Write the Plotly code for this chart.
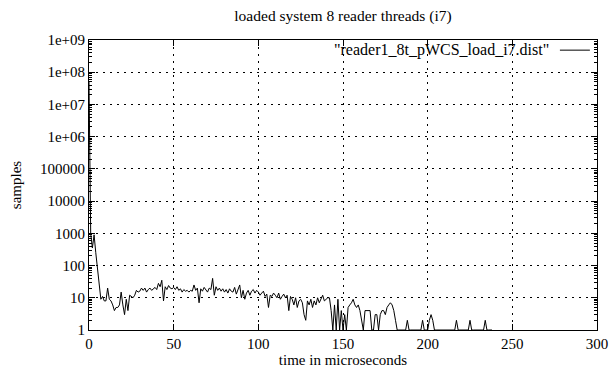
import plotly.graph_objects as go

# time in microseconds (bin index) and sample counts
time_us = list(range(0, 239))
samples = [
    5e7, 1000, 350, 900, 250, 80, 25, 9, 11, 8,
    8, 20, 9, 8, 6, 4, 5, 5, 6, 15,
    6, 3, 9, 4, 12, 11, 10, 12, 17, 15,
    16, 20, 17, 20, 15, 18, 20, 17, 19, 21,
    18, 28, 22, 35, 8, 22, 18, 24, 20, 19,
    21, 18, 22, 17, 19, 15, 18, 16, 17, 15,
    17, 16, 25, 17, 20, 7, 19, 16, 21, 18,
    15, 20, 18, 40, 12, 22, 17, 20, 16, 19,
    15, 18, 14, 19, 16, 15, 21, 13, 19, 25,
    10, 17, 9, 14, 17, 12, 16, 18, 14, 17,
    15, 12, 14, 16, 11, 13, 5, 12, 11, 14,
    12, 10, 14, 9, 11, 13, 10, 12, 4, 11,
    9, 6, 10, 5, 8, 9, 7, 3, 2, 8,
    6, 9, 5, 8, 6, 10, 7, 9, 12, 8,
    9, 10, 10, 4, 1, 6, 1, 9, 1, 4,
    1, 3, 1, 5, 6, 7, 9, 6, 5, 6,
    4, 2, 1, 4, 4, 4, 4, 1, 1, 3,
    3, 1, 3, 4, 4, 3, 5, 6, 7, 6,
    4, 2, 1, 1, 1, 1, 1, 1, 2, 1,
    1, 1, 1, 1, 1, 1, 1, 2, 1, 1,
    1, 2, 3, 2, 1, 1, 1, 1, 1, 1,
    1, 1, 1, 1, 1, 1, 1, 2, 1, 1,
    1, 1, 1, 1, 1, 2, 1, 1, 1, 1,
    1, 1, 1, 1, 2, 1, 1, 1, 1,
]

x_ticks = [0, 50, 100, 150, 200, 250, 300]
y_tickvals = [1, 10, 100, 1000, 10000, 100000, 1e6, 1e7, 1e8, 1e9]
y_ticktext = ["1", "10", "100", "1000", "10000", "100000", "1e+06", "1e+07", "1e+08", "1e+09"]
y_minor = [k * 10 ** d for d in range(0, 9) for k in range(2, 10)]

title_text = "loaded system 8 reader threads (i7)"
series_name = '"reader1_8t_pWCS_load_i7.dist"'

FONT = "Liberation Serif"
FS = 15

fig = go.Figure()
fig.add_trace(go.Scatter(
    x=time_us, y=samples, mode="lines", name=series_name,
    line=dict(color="black", width=1), showlegend=False,
))

axis_common = dict(
    showline=True, linecolor="black", linewidth=1, mirror="ticks",
    ticks="inside", ticklen=6, tickcolor="black", tickwidth=1,
    showgrid=True, gridcolor="black", gridwidth=1, griddash="2px,5px",
    zeroline=False, automargin=False,
    tickfont=dict(family=FONT, size=FS, color="black"),
)

fig.update_layout(
    width=610, height=369,
    margin=dict(l=89, r=13, t=40, b=39),
    paper_bgcolor="white", plot_bgcolor="white",
    font=dict(family=FONT, size=FS, color="black"),
    title=dict(text=title_text, x=(89 + 597) / 2 / 610, xanchor="center",
               y=1 - 16 / 369, yanchor="middle",
               font=dict(family=FONT, size=15.5, color="black")),
    xaxis=dict(range=[0, 300], tickvals=x_ticks, **axis_common,
               title=dict(text="time in microseconds", standoff=0,
                          font=dict(family=FONT, size=FS))),
    yaxis=dict(type="log", range=[0, 9], tickvals=y_tickvals, ticktext=y_ticktext,
               minor=dict(ticks="inside", ticklen=3, tickcolor="black",
                          tickvals=y_minor, showgrid=False),
               **axis_common,
               title=dict(text="samples", standoff=14,
                          font=dict(family=FONT, size=FS))),
    showlegend=False,
)

# gnuplot-style key: label then line sample on the right
fig.add_annotation(text=series_name, xref="paper", yref="paper",
                   x=0.909, y=0.965, xanchor="right", yanchor="middle",
                   showarrow=False, font=dict(family=FONT, size=16, color="black"))
fig.add_shape(type="line", xref="paper", yref="paper",
              x0=0.927, x1=0.986, y0=0.965, y1=0.965,
              line=dict(color="black", width=1))

fig.write_html("out.html")
